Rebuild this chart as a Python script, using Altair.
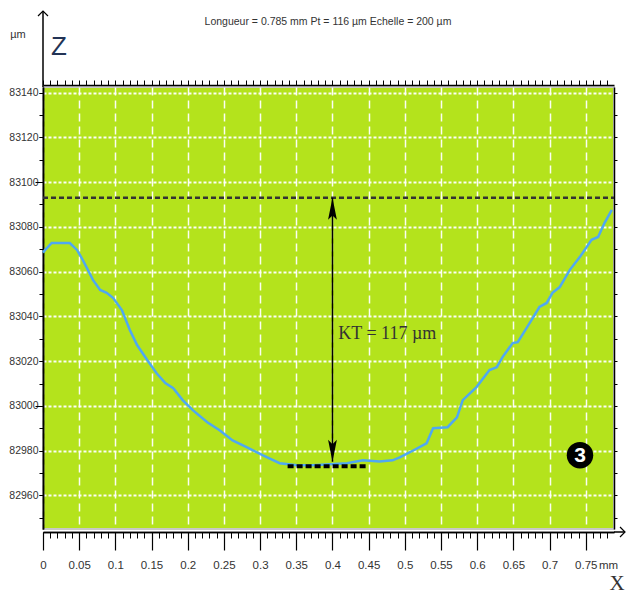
import altair as alt
import pandas as pd

# ---- data ----
x_mm = [0.0, 0.003, 0.012, 0.037, 0.047, 0.055, 0.069, 0.079, 0.088, 0.097,
        0.109, 0.120, 0.130, 0.144, 0.157, 0.169, 0.180, 0.193, 0.207, 0.227,
        0.244, 0.262, 0.282, 0.304, 0.327, 0.351, 0.373, 0.396, 0.420, 0.442,
        0.465, 0.483, 0.493, 0.507, 0.530, 0.539, 0.559, 0.572, 0.580, 0.599,
        0.617, 0.627, 0.635, 0.649, 0.656, 0.669, 0.686, 0.696, 0.704, 0.714,
        0.728, 0.742, 0.758, 0.767, 0.776, 0.786]
z_um = [83068.5, 83069.7, 83072.8, 83072.8, 83069.7, 83065.2, 83056.3, 83051.8, 83050.5, 83048.2,
        83042.8, 83033.9, 83027.2, 83020.5, 83014.6, 83010.2, 83007.9, 83002.6, 82998.1, 82992.7,
        82989.1, 82984.6, 82981.5, 82977.9, 82974.4, 82973.5, 82973.5, 82973.9, 82974.4, 82975.7,
        82975.2, 82975.7, 82977.0, 82979.3, 82983.3, 82990.0, 82990.5, 82994.9, 83002.6, 83008.4,
        83016.0, 83017.3, 83021.8, 83028.1, 83028.5, 83035.2, 83044.2, 83046.0, 83050.5, 83053.1,
        83060.8, 83066.6, 83074.2, 83075.5, 83081.8, 83087.6]

x_major = [0, 0.05, 0.1, 0.15, 0.2, 0.25, 0.3, 0.35, 0.4, 0.45, 0.5, 0.55,
           0.6, 0.65, 0.7, 0.75]
x_minor = [round(i * 0.01, 2) for i in range(0, 79)]
y_major = [82960, 82980, 83000, 83020, 83040, 83060, 83080, 83100, 83120, 83140]
y_minor = [82950 + 10 * i for i in range(0, 20)]
y_long = [83000, 83100]

x_domain = [0, 0.789]
z_domain = [82945, 83142.5]

kt_top = 83093
kt_bottom = 82975
kt_x = 0.4
floor_x = [0.338, 0.449]
floor_z = 82973
kt_label = "KT = 117 µm"
kt_label_pos = [0.408, 83032]
badge_pos = [0.742, 82978]
badge_label = "3"
title_text = "Longueur = 0.785 mm  Pt = 116 µm  Echelle = 200 µm"

# ---- styling ----
W, H = 571, 442
SANS = "Liberation Sans"
GREEN = "#b4e31c"
BLUE = "#4fa8f2"

xs = alt.Scale(domain=x_domain, nice=False, zero=False)
ys = alt.Scale(domain=z_domain, nice=False, zero=False)


def ax(**kw):
    base = dict(title=None, labelFont=SANS, labelColor="#333333", labelFontSize=12,
                domainColor="black", tickColor="black", grid=False)
    base.update(kw)
    return alt.Axis(**base)


df_line = pd.DataFrame({"x": x_mm, "z": z_um})

# grid-only axes + upper dashed reference line
df_top = pd.DataFrame({"x": [x_domain[0]], "x2": [x_domain[1]], "z": [kt_top]})
top_line = alt.Chart(df_top).mark_rule(color="#333333", strokeWidth=2.5, strokeDash=[5, 3]).encode(
    x=alt.X("x:Q", scale=xs, axis=ax(values=x_major, grid=True, gridColor="white",
                                     gridDash=[8, 5], gridWidth=1.5, gridOpacity=0.95,
                                     domain=False, ticks=False, labels=False)),
    x2="x2:Q",
    y=alt.Y("z:Q", scale=ys, axis=ax(values=y_major, grid=True, gridColor="white",
                                     gridDash=[3, 2], gridWidth=2, gridOpacity=0.95,
                                     domain=False, ticks=False, labels=False)),
)

profile = alt.Chart(df_line).mark_line(color=BLUE, strokeWidth=2.5).encode(
    x=alt.X("x:Q", scale=xs, axis=ax(values=x_major, format="~g", orient="bottom", offset=3,
                                     tickSize=18, tickWidth=1.2, labelPadding=9,
                                     labelFontSize=11.5, domainWidth=1.5, labelFlush=False)),
    y=alt.Y("z:Q", scale=ys, axis=ax(values=y_major, format="d", orient="left", tickSize=4,
                                     labelPadding=1, labelFontSize=10.5, domainWidth=1.5)),
)

df_floor = pd.DataFrame({"x": [floor_x[0]], "x2": [floor_x[1]], "z": [floor_z]})
floor_line = alt.Chart(df_floor).mark_rule(color="black", strokeWidth=4, strokeDash=[6, 3]).encode(
    x=alt.X("x:Q", scale=xs, axis=ax(values=x_minor, orient="bottom", offset=3, tickSize=6,
                                     labels=False, domainWidth=1.5)),
    x2="x2:Q",
    y=alt.Y("z:Q", scale=ys, axis=ax(values=y_minor, orient="left", tickSize=4,
                                     labels=False, domainWidth=1.5)),
)

df_arrow = pd.DataFrame({"x": [kt_x], "z": [kt_top], "z2": [kt_bottom]})
arrow = alt.Chart(df_arrow).mark_rule(color="black", strokeWidth=1.5).encode(
    x=alt.X("x:Q", scale=xs, axis=ax(values=x_minor, orient="top", offset=2, tickSize=5,
                                     labels=False, domainWidth=1.5)),
    y=alt.Y("z:Q", scale=ys, axis=ax(values=y_minor, orient="right", tickSize=3,
                                     labels=False, domainWidth=1.5)),
    y2="z2:Q",
)

UP = "M0,0L-0.4,2L0,1.6L0.4,2Z"
DOWN = "M0,0L-0.4,-2L0,-1.6L0.4,-2Z"
df_head_up = pd.DataFrame({"x": [kt_x], "z": [kt_top]})
df_head_down = pd.DataFrame({"x": [kt_x], "z": [kt_bottom]})
head_up = alt.Chart(df_head_up).mark_point(shape=UP, filled=True, color="black", size=484,
                                           opacity=1).encode(
    x=alt.X("x:Q", scale=xs, axis=None),
    y=alt.Y("z:Q", scale=ys, axis=ax(values=y_long, orient="left", tickSize=8,
                                     labels=False, domain=False)),
)
head_down = alt.Chart(df_head_down).mark_point(shape=DOWN, filled=True, color="black", size=484,
                                               opacity=1).encode(
    x=alt.X("x:Q", scale=xs, axis=None),
    y=alt.Y("z:Q", scale=ys, axis=None),
)

df_kt = pd.DataFrame({"x": [kt_label_pos[0]], "z": [kt_label_pos[1]], "t": [kt_label]})
kt_text = alt.Chart(df_kt).mark_text(align="left", baseline="middle", font="Liberation Serif",
                                     fontSize=18, color="#333333").encode(
    x=alt.X("x:Q", scale=xs, axis=None),
    y=alt.Y("z:Q", scale=ys, axis=None),
    text="t:N",
)

df_badge = pd.DataFrame({"x": [badge_pos[0]], "z": [badge_pos[1]], "t": [badge_label]})
badge_circle = alt.Chart(df_badge).mark_point(filled=True, color="black", size=700, opacity=1,
                                              shape="circle").encode(
    x=alt.X("x:Q", scale=xs, axis=None),
    y=alt.Y("z:Q", scale=ys, axis=None),
)
badge_text = alt.Chart(df_badge).mark_text(font=SANS, fontWeight="bold", fontSize=21,
                                           color="white", baseline="middle", dy=1).encode(
    x=alt.X("x:Q", scale=xs, axis=None),
    y=alt.Y("z:Q", scale=ys, axis=None),
    text="t:N",
)

# decorations (axis arrows and labels)
title = alt.Chart(pd.DataFrame({"t": [title_text]})).mark_text(font=SANS, fontSize=10.5,
                                                               color="#333333").encode(
    x=alt.value(285), y=alt.value(-65), text="t:N")
z_lab = alt.Chart(pd.DataFrame({"t": ["Z"]})).mark_text(font=SANS, fontSize=26,
                                                        color="#223355", baseline="middle").encode(
    x=alt.value(16), y=alt.value(-40), text="t:N")
um_lab = alt.Chart(pd.DataFrame({"t": ["µm"]})).mark_text(font=SANS, fontSize=11,
                                                         color="#333333").encode(
    x=alt.value(-25), y=alt.value(-52), text="t:N")
x_lab = alt.Chart(pd.DataFrame({"t": ["X"]})).mark_text(font="Liberation Serif", fontSize=21,
                                                        color="#333333").encode(
    x=alt.value(574), y=alt.value(497), text="t:N")
mm_lab = alt.Chart(pd.DataFrame({"t": ["mm"]})).mark_text(font=SANS, fontSize=11.5,
                                                         color="#333333", align="left",
                                                         baseline="middle").encode(
    x=alt.value(556), y=alt.value(479), text="t:N")
y_ext = alt.Chart(pd.DataFrame({"a": [0]})).mark_rule(color="black", strokeWidth=1.5).encode(
    x=alt.value(0), y=alt.value(-76), y2=alt.value(0))
x_ext = alt.Chart(pd.DataFrame({"a": [0]})).mark_rule(color="black", strokeWidth=1.5).encode(
    x=alt.value(W), x2=alt.value(582), y=alt.value(H + 3))
y_tip = alt.Chart(pd.DataFrame({"a": [0]})).mark_point(shape="M-1,1L0,0L1,1", filled=False,
                                                       color="black", size=100, strokeWidth=1.2,
                                                       opacity=1).encode(
    x=alt.value(0), y=alt.value(-76))
x_tip = alt.Chart(pd.DataFrame({"a": [0]})).mark_point(shape="M-1,-1L0,0L-1,1", filled=False,
                                                       color="black", size=100, strokeWidth=1.2,
                                                       opacity=1).encode(
    x=alt.value(582), y=alt.value(H + 3))

chart = alt.layer(
    top_line, profile, floor_line, arrow, head_up, head_down, kt_text, badge_circle, badge_text,
    title, z_lab, um_lab, x_lab, mm_lab, y_ext, x_ext, y_tip, x_tip,
).resolve_axis(x="independent", y="independent").properties(
    width=W, height=H,
    autosize=alt.AutoSizeParams(type="none"),
    padding={"left": 35, "top": 79, "right": 12, "bottom": 70},
).configure_view(fill=GREEN, stroke="#c8c8c8", strokeWidth=2)

chart.save("out.html", embed_options={"renderer": "svg", "actions": False})
